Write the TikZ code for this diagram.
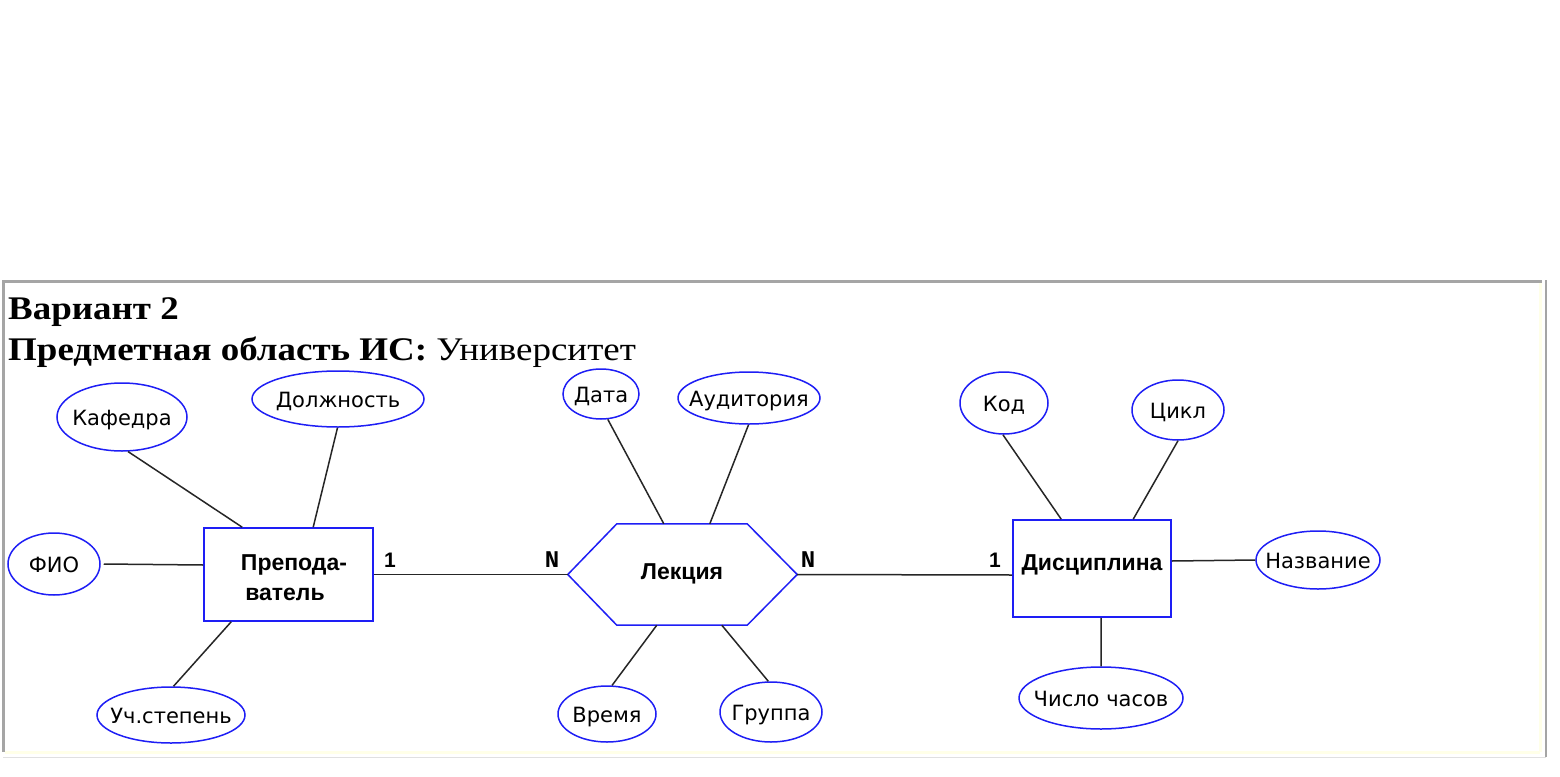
\documentclass[tikz,border=0pt]{standalone}
\usepackage{fontspec}
\setmainfont{Liberation Serif}
\newfontfamily\titlefont[FakeStretch=1.12]{Liberation Serif}
\newfontfamily\dsans{DejaVu Sans}
\newfontfamily\lsans{Liberation Sans}
\newfontfamily\dmono{Liberation Mono}
\usetikzlibrary{shapes.geometric}
\definecolor{framegray}{RGB}{165,165,165}
\definecolor{paleyellow}{RGB}{255,255,232}
\definecolor{attrblue}{RGB}{30,30,245}
\begin{document}
\begin{tikzpicture}[x=1pt,y=-1pt,
  attr/.style={ellipse, draw=attrblue, line width=1.5pt, inner sep=0pt},
  atxt/.style={font=\dsans\fontsize{21}{25}\selectfont, text height=16pt, text depth=0pt, inner sep=0pt},
  ent/.style={rectangle, draw=attrblue, line width=1.6pt, inner sep=0pt},
  etxt/.style={font=\lsans\bfseries\fontsize{23}{28}\selectfont, inner sep=0pt, anchor=base},
  conn/.style={draw=black!85, line width=1.5pt},
  card/.style={font=\lsans\bfseries\fontsize{21}{24}\selectfont, inner sep=0pt},
  cardn/.style={font=\dmono\bfseries\fontsize{24}{26}\selectfont, inner sep=0pt},
  frameline/.style={draw=framegray, line width=2.5pt}
]
\useasboundingbox (0,0) rectangle (1560,776);
\fill[white] (0,0) rectangle (1560,776);

% page frame
\draw[frameline] (2,281.5) -- (1542,281.5);
\draw[frameline] (3.5,281) -- (3.5,752);
\draw[frameline] (1546,280) -- (1546,757);
\draw[paleyellow, line width=2.5pt] (1540.5,283) -- (1540.5,752);
\draw[paleyellow, line width=3pt] (5,752) -- (1540,752);
\draw[black!12, line width=1.2pt] (3,757.5) -- (1546,757.5);

% title
\node[anchor=base west, inner sep=0pt, font=\titlefont\bfseries\fontsize{33}{36}\selectfont] (t1) at (8,319) {Вариант 2};
\node[anchor=base west, inner sep=0pt, font=\titlefont\fontsize{33}{36}\selectfont] (t2) at (8,360) {\textbf{Предметная область ИС:} Университет};

% entity Преподаватель
\node[ent, minimum width=169pt, minimum height=93pt] (prep) at (288.5,574.5) {};
\node[etxt] (prep1) at (294,570) {Препода-};
\node[etxt] (prep2) at (285,600) {ватель};

% relationship Лекция
\node[minimum width=229pt, minimum height=101pt, inner sep=0pt] (lek) at (682.5,574.5) {};
\draw[draw=attrblue, line width=1.5pt, line join=miter]
  (lek.west) -- ([xshift=49pt]lek.north west) -- ([xshift=-50pt]lek.north east)
  -- (lek.east) -- ([xshift=-50pt]lek.south east) -- ([xshift=49pt]lek.south west) -- cycle;
\node[etxt] (lek1) at (682,579) {Лекция};

% entity Дисциплина
\node[ent, minimum width=158pt, minimum height=97pt] (dis) at (1092,568.5) {};
\node[etxt] (dis1) at (1092,570) {Дисциплина};

% attributes
\node[attr, minimum width=130pt, minimum height=68pt, label={[atxt]center:Кафедра}] (kaf) at (122,417) {};
\node[attr, minimum width=172pt, minimum height=56pt, label={[atxt]center:Должность}] (dol) at (338,399) {};
\node[attr, minimum width=92pt, minimum height=62pt, label={[atxt]center:ФИО}] (fio) at (54,564) {};
\node[attr, minimum width=148pt, minimum height=56pt, label={[atxt]center:Уч.степень}] (uch) at (171,715) {};

\node[attr, minimum width=76pt, minimum height=50pt, label={[atxt]center:Дата}] (dat) at (601,394) {};
\node[attr, minimum width=142pt, minimum height=52pt, label={[atxt]center:Аудитория}] (aud) at (749,398) {};
\node[attr, minimum width=98pt, minimum height=56pt, label={[atxt]center:Время}] (vre) at (607,714) {};
\node[attr, minimum width=102pt, minimum height=60pt, label={[atxt]center:Группа}] (gru) at (771,712) {};

\node[attr, minimum width=88pt, minimum height=62pt, label={[atxt]center:Код}] (kod) at (1004,403) {};
\node[attr, minimum width=92pt, minimum height=60pt, label={[atxt]center:Цикл}] (cyk) at (1178,410) {};
\node[attr, minimum width=124pt, minimum height=58pt, label={[atxt]center:Название}] (naz) at (1318,560) {};
\node[attr, minimum width=164pt, minimum height=62pt, label={[atxt]center:Число часов}] (chs) at (1101,698) {};

% connectors: attributes
\draw[conn] (kaf.-80) -- ([xshift=39pt]prep.north west);
\draw[conn] (dol.-91) -- ([xshift=110pt]prep.north west);
\draw[conn] ([xshift=3pt]fio.east) -- ([yshift=9.5pt]prep.west);
\draw[conn] (uch.85) -- ([xshift=28pt]prep.south west);

\draw[conn] (dat.-75) -- ([xshift=96pt]lek.north west);
\draw[conn] (aud.-91) -- ([xshift=142pt]lek.north west);
\draw[conn] (vre.80) -- ([xshift=89pt]lek.south west);
\draw[conn] (gru.95) -- ([xshift=154pt]lek.south west);

\draw[conn] (kod.-92) -- ([xshift=49pt]dis.north west);
\draw[conn] (cyk.-90) -- ([xshift=121pt]dis.north west);
\draw[conn] ([yshift=7.5pt]dis.east) -- (naz.west);
\draw[conn] ([xshift=89pt]dis.south west) -- (chs.north);

% relationship lines
\draw[conn] (prep.east) -- (lek.west);
\draw[conn] (lek.east) -- ([yshift=-6.5pt]dis.west);

% cardinalities
\node[card] (c1) at (390,560) {1};
\node[cardn] (c2) at (552,560) {N};
\node[cardn] (c3) at (808,560) {N};
\node[card] (c4) at (995,560) {1};
\end{tikzpicture}
\end{document}
